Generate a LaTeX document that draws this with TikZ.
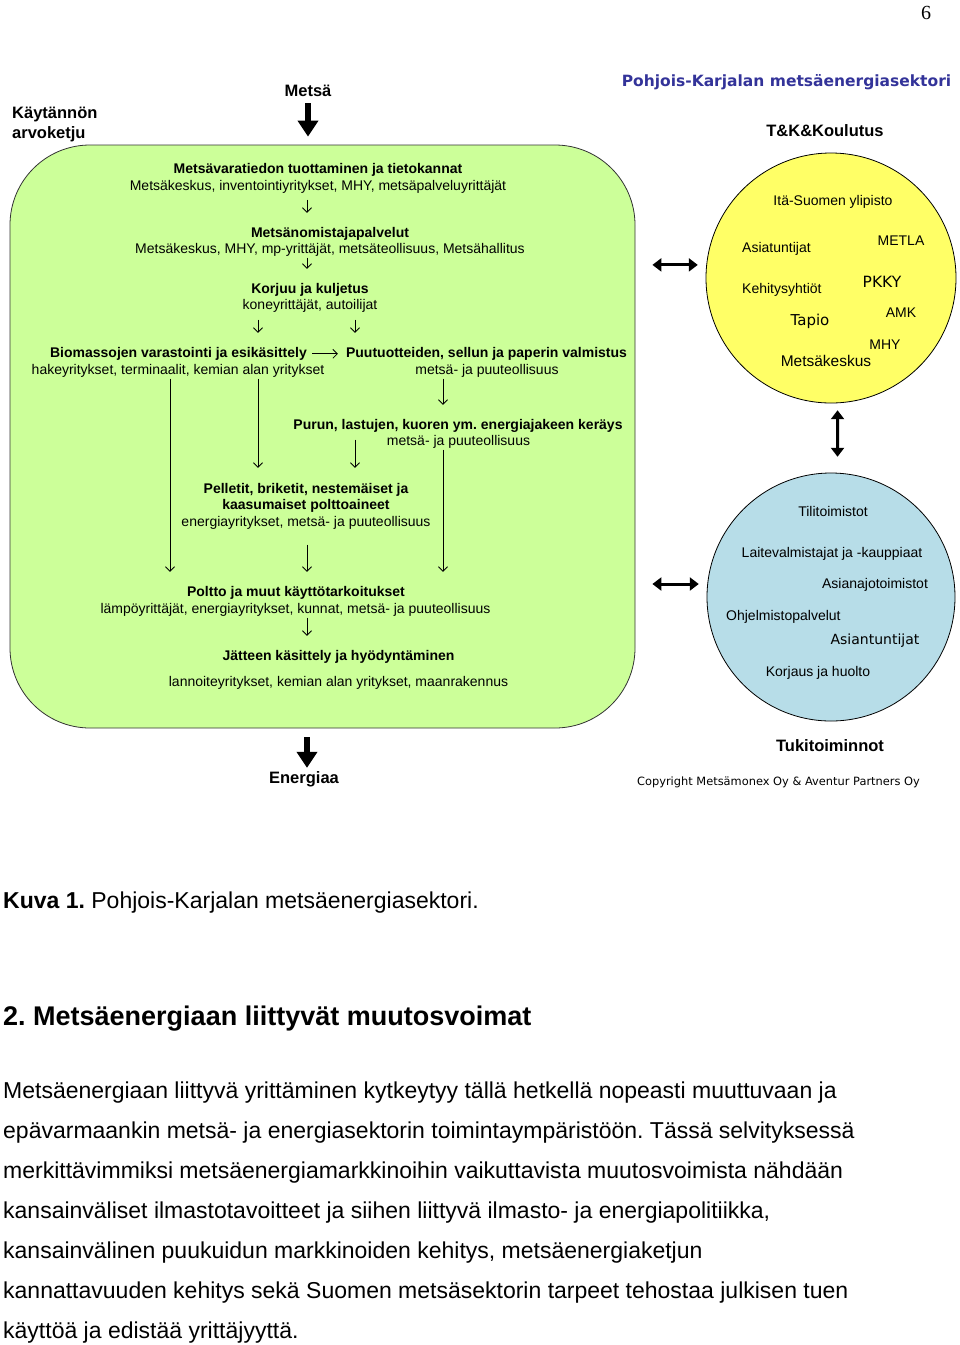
\documentclass[tikz,border=0pt]{standalone}
\usepackage{fontspec}
\setmainfont{Liberation Sans}
\newfontfamily\verd{DejaVu Sans}
\newfontfamily\tms{Liberation Serif}
\usetikzlibrary{arrows.meta,calc}

\newcommand\fs[1]{\fontsize{#1}{#1}\selectfont}
\definecolor{chaingreen}{RGB}{204,255,153}
\definecolor{tkyellow}{RGB}{255,255,102}
\definecolor{supblue}{RGB}{183,221,232}
\definecolor{titleblue}{RGB}{51,51,153}

\tikzset{
	ln/.style={font=\fs{14}, inner sep=1pt, text height=10pt, text depth=3.5pt, anchor=base},
	lnb/.style={ln, font=\fs{14}\bfseries},
	flow/.style={line width=0.8pt, -{Straight Barb[length=4.5pt,width=9pt]}, shorten >=13pt},
	fat/.style={line width=6pt, -{Triangle[length=16pt,width=20pt]}},
	dbl/.style={line width=3pt, {Triangle[length=9pt,width=13pt]}-{Triangle[length=9pt,width=13pt]}},
	head/.style={font=\fs{16.5}\bfseries, inner sep=1pt, anchor=base},
	inlbl/.style={font=\fs{14}, inner sep=1pt, anchor=base},
	bodyln/.style={font=\fs{23}, inner sep=0pt, anchor=base west}
}

\begin{document}
\frenchspacing
\begin{tikzpicture}[x=1pt,y=-1pt,>=Latex]
		\useasboundingbox (0,0) rectangle (960,1345);
		
		% Page number
		\node[font=\fs{20}\tms, anchor=base] (pagenr) at (926,19) {6};
		
		% Value chain area
		\node[draw=black!80, line width=0.8pt, fill=chaingreen, rounded corners=80pt,
		minimum width=625pt, minimum height=583pt, inner sep=0pt] (chain) at (322.5,436.5) {};
		\node[font=\fontsize{16.5}{20}\selectfont\bfseries, align=left, anchor=west, inner sep=0pt] (kay) at (12,124) {Käytännön\\arvoketju};
		\node[head] (metsa) at (308,96) {Metsä};
		\node[head] (energia) at (304,783) {Energiaa};
		
		% Columns of the small arrows
		\coordinate (colL) at (170,0);
		\coordinate (colB) at (258,0);
		\coordinate (colM) at (307,0);
		\coordinate (colC) at (355,0);
		\coordinate (colR) at (443,0);
		
		% Steps of the chain
		\node[lnb] (tietoT) at (318,173) {Metsävaratiedon tuottaminen ja tietokannat};
		\node[ln] (tietoO) at (318,190) {Metsäkeskus, inventointiyritykset, MHY, metsäpalveluyrittäjät};
		\node[lnb] (omistT) at (330,237) {Metsänomistajapalvelut};
		\node[ln] (omistO) at (330,253) {Metsäkeskus, MHY, mp-yrittäjät, metsäteollisuus, Metsähallitus};
		\node[lnb] (korjuuT) at (310,293) {Korjuu ja kuljetus};
		\node[ln] (korjuuO) at (310,309) {koneyrittäjät, autoilijat};
		\node[lnb] (bioT) at (178.5,357) {Biomassojen varastointi ja esikäsittely};
		\node[ln] (bioO) at (178,374) {hakeyritykset, terminaalit, kemian alan yritykset};
		\node[lnb] (puuT) at (486.5,357) {Puutuotteiden, sellun ja paperin valmistus};
		\node[ln] (puuO) at (487,374) {metsä- ja puuteollisuus};
		\node[lnb] (purunT) at (458,429) {Purun, lastujen, kuoren ym. energiajakeen keräys};
		\node[ln] (purunO) at (458.5,445) {metsä- ja puuteollisuus};
		\node[lnb] (pellT) at (306,493) {Pelletit, briketit, nestemäiset ja};
		\node[lnb] (pellT2) at (306,509) {kaasumaiset polttoaineet};
		\node[ln] (pellO) at (306,526) {energiayritykset, metsä- ja puuteollisuus};
		\node[lnb] (polttoT) at (296,596) {Poltto ja muut käyttötarkoitukset};
		\node[ln] (polttoO) at (295.5,613) {lämpöyrittäjät, energiayritykset, kunnat, metsä- ja puuteollisuus};
		\node[lnb] (jateT) at (338.5,660) {Jätteen käsittely ja hyödyntäminen};
		\node[ln] (jateO) at (338.5,686) {lannoiteyritykset, kemian alan yritykset, maanrakennus};
		
		% Flow of the chain
		\draw[flow, shorten <=5pt] (tietoO.south -| colM) -- (omistT.north -| colM);
		\draw[flow] (omistO.south -| colM) -- (korjuuT.north -| colM);
		\draw[flow, shorten <=6pt] (korjuuO.south -| colB) -- (bioT.north -| colB);
		\draw[flow, shorten <=6pt] (korjuuO.south -| colC) -- (puuT.north -| colC);
		\draw[flow, shorten <=4pt, shorten >=7pt] (bioT.east) -- (puuT.west |- bioT.east);
		\draw[flow] (bioO.south -| colL) -- (polttoT.north -| colL);
		\draw[flow, shorten >=14pt] (bioO.south -| colB) -- (pellT.north -| colB);
		\draw[flow] (puuO.south -| colR) -- (purunT.north -| colR);
		\draw[flow, shorten <=6pt, shorten >=14pt] (purunT.south -| colC) -- (pellT.north -| colC);
		\draw[flow] (purunO.south -| colR) -- (polttoT.north -| colR);
		\draw[flow, shorten <=14pt] (pellO.south -| colM) -- (polttoT.north -| colM);
		\draw[flow] (polttoO.south -| colM) -- (jateT.north -| colM);
		
		% Input and output
		\draw[fat, shorten <=6pt, shorten >=8pt] (metsa.south) -- (metsa.south |- chain.north);
		\draw[fat, shorten <=9pt, shorten >=2pt] (colM |- chain.south) -- (colM |- energia.north);
		
		% Sector title
		\node[font=\fs{15.5}\verd\bfseries, text=titleblue, anchor=base, inner sep=0pt] (title) at (786.5,86) {Pohjois-Karjalan metsäenergiasektori};
		
		% T&K&Koulutus circle
		\node[head] (tkT) at (825,136) {T\&K\&Koulutus};
		\node[circle, draw, line width=0.8pt, fill=tkyellow, minimum size=250pt, inner sep=0pt] (tk) at (831,278) {};
		\node[inlbl] (ita) at (833,205) {Itä-Suomen ylipisto};
		\node[inlbl, anchor=base west] (asia) at (741,252) {Asiatuntijat};
		\node[inlbl] (metla) at (901,245) {METLA};
		\node[inlbl, anchor=base west] (kehi) at (741,293) {Kehitysyhtiöt};
		\node[inlbl, font=\fs{15.5}\verd] (pkky) at (882,287) {PKKY};
		\node[inlbl] (amk) at (901,317) {AMK};
		\node[inlbl, font=\fs{15}\verd] (tapio) at (810,325.5) {Tapio};
		\node[inlbl] (mhy) at (885,349) {MHY};
		\node[inlbl, font=\fs{15.5}] (mkes) at (826,366.5) {Metsäkeskus};
		
		% Tukitoiminnot circle
		\node[circle, draw, line width=0.8pt, fill=supblue, minimum size=248pt, inner sep=0pt] (sup) at (831,597) {};
		\node[inlbl] (tili) at (833,516) {Tilitoimistot};
		\node[inlbl] (laite) at (832,557) {Laitevalmistajat ja -kauppiaat};
		\node[inlbl] (asian) at (875,588) {Asianajotoimistot};
		\node[inlbl, anchor=base west] (ohj) at (725,620) {Ohjelmistopalvelut};
		\node[inlbl, font=\fs{14}\verd] (asiant) at (875,644) {Asiantuntijat};
		\node[inlbl] (korj) at (818,676) {Korjaus ja huolto};
		\node[head] (tukiT) at (830,751) {Tukitoiminnot};
		
		% Links between the areas
		\draw[dbl, shorten <=17pt, shorten >=8.5pt] (chain.east |- tk.174) -- (tk.174);
		\draw[dbl, shorten <=17pt, shorten >=8.5pt] (chain.east |- sup.174) -- (sup.174);
		\draw[dbl, shorten <=7pt, shorten >=16pt] (tk.-87) -- (sup.87);
		
		\node[font=\fs{11.4}\verd, anchor=base, inner sep=0pt] (copy) at (778.5,785) {Copyright Metsämonex Oy \& Aventur Partners Oy};
		
		% Caption and text below
		\node[bodyln] (kuva) at (3,908) {\textbf{Kuva 1.} Pohjois-Karjalan metsäenergiasektori.};
		\node[bodyln, font=\fs{27}\bfseries] (otsikko) at (3,1025) {2. Metsäenergiaan liittyvät muutosvoimat};
		\foreach \txt [count=\i] in {
			{Metsäenergiaan liittyvä yrittäminen kytkeytyy tällä hetkellä nopeasti muuttuvaan ja},
			{epävarmaankin metsä- ja energiasektorin toimintaympäristöön. Tässä selvityksessä},
			{merkittävimmiksi metsäenergiamarkkinoihin vaikuttavista muutosvoimista nähdään},
			{kansainväliset ilmastotavoitteet ja siihen liittyvä ilmasto- ja energiapolitiikka,},
			{kansainvälinen puukuidun markkinoiden kehitys, metsäenergiaketjun},
			{kannattavuuden kehitys sekä Suomen metsäsektorin tarpeet tehostaa julkisen tuen},
			{käyttöä ja edistää yrittäjyyttä.}}
			\node[bodyln] (teksti\i) at (3,{1058+40*\i}) {\txt};
		
	\end{tikzpicture}
\end{document}
